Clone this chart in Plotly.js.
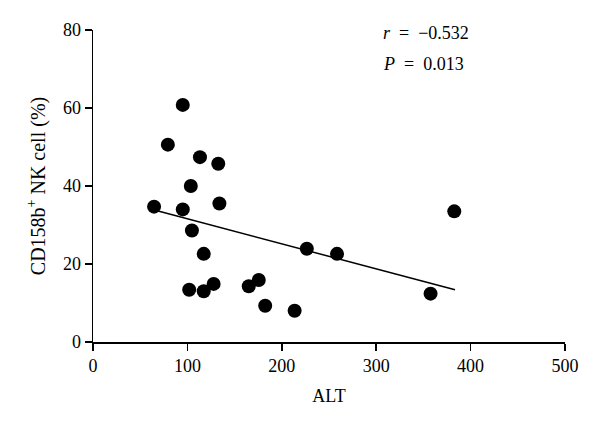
<!DOCTYPE html>
<html>
<head>
<meta charset="utf-8">
<script src="https://cdn.plot.ly/plotly-3.0.1.min.js"></script>
<style>body{margin:0;background:#fff}#chartDiv{width:600px;height:428px}</style>
</head>
<body>
<div id="chartDiv"></div>
<script>
// points (ALT vs CD158b+ NK cell %)
var altValues = [64.7, 79.3, 95.1, 95.1, 103.6, 104.8, 101.9, 113.3, 117.3, 117.3, 127.8,
    132.7, 133.9, 165.0, 175.6, 182.4, 213.6, 226.5, 258.5, 357.6, 382.7];
var nkValues = [34.7, 50.6, 60.8, 34.0, 40.0, 28.6, 13.4, 47.4, 22.6, 13.0, 14.9,
    45.7, 35.5, 14.3, 15.9, 9.3, 8.0, 23.9, 22.6, 12.4, 33.5];
// fitted line ends
var fitX = [67, 383.5];
var fitY = [33.7, 13.4];
var statLabels = ['<i>r</i>  =  \u22120.532', '<i>P</i>  =  0.013'];

var serif = "'Liberation Serif', 'Times New Roman', Times, serif";

var data = [];
data.push({
    x: fitX, y: fitY,
    mode: 'lines', type: 'scatter',
    line: {color: '#000', width: 1.5},
    hoverinfo: 'skip'
});
data.push({
    x: altValues, y: nkValues,
    mode: 'markers', type: 'scatter',
    marker: {color: '#000', size: 14}
});

var layout = {
    width: 600, height: 428,
    margin: {l: 93, r: 35, t: 30, b: 86},
    showlegend: false,
    paper_bgcolor: '#fff', plot_bgcolor: '#fff',
    font: {family: serif, size: 18, color: '#000'},
    xaxis: {
        range: [0, 500], dtick: 100,
        showgrid: false, zeroline: false,
        showline: true, linecolor: '#000', linewidth: 1.5,
        ticks: 'outside', ticklen: 7, tickwidth: 1.5, tickcolor: '#000',
        tickfont: {family: serif, size: 18},
        title: {text: 'ALT', standoff: 14, font: {family: serif, size: 18}}
    },
    yaxis: {
        range: [0, 80], dtick: 20,
        showgrid: false, zeroline: false,
        showline: true, linecolor: '#000', linewidth: 1.5,
        ticks: 'outside', ticklen: 7, tickwidth: 1.5, tickcolor: '#000',
        tickfont: {family: serif, size: 18},
        title: {text: 'CD158b<sup>+</sup> NK cell (%)', standoff: 12, font: {family: serif, size: 20}}
    },
    annotations: [
        {x: 305, y: 79.3, xref: 'x', yref: 'y', text: statLabels[0], showarrow: false,
            xanchor: 'left', yanchor: 'middle', font: {family: serif, size: 18}},
        {x: 305, y: 71.2, xref: 'x', yref: 'y', text: statLabels[1], showarrow: false,
            xanchor: 'left', yanchor: 'middle', font: {family: serif, size: 18}}
    ]
};

Plotly.newPlot('chartDiv', data, layout, {staticPlot: true});
</script>
</body>
</html>
